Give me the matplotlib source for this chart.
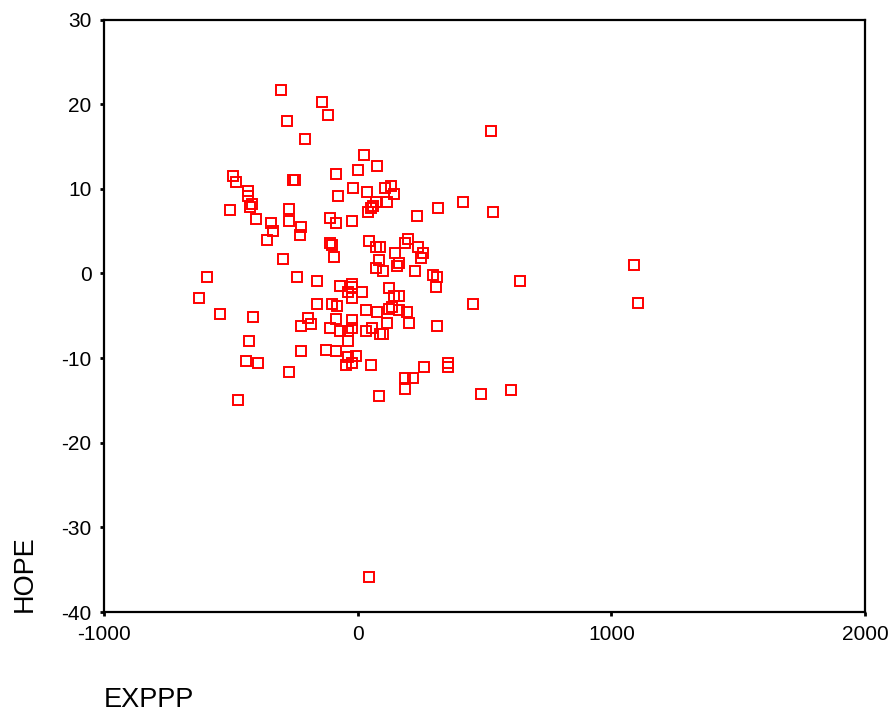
import matplotlib
matplotlib.use("Agg")
import matplotlib.pyplot as plt

plt.rcParams['font.family'] = ['Liberation Sans', 'DejaVu Sans']
plt.rcParams['axes.unicode_minus'] = False

# EXPPP (x) and HOPE (y)
exppp = [-304, -142, -280, -118, -209, 525, 24, 75, 0, -87,
         -493, -481, -256, -249, -20, 107, 130, 36, -79, 142,
         -434, -434, -418, -426, 114, 71, 59, 51, 39, 414,
         316, -505, -272, 533, 233, -110, -402, -272, -24, -87,
         -343, -225, -335, -229, -359, -110, -103, 43, 197, 185,
         71, 87, 237, 146, 256, 249, -95, -296, 83, 162,
         154, 71, 99, 225, -592, -241, 296, 312, 308, 1089,
         639, -162, -71, -24, -24, -39, 16, -24, 122, 142,
         162, -627, -162, -103, -83, 454, 1105, 32, 75, 122,
         134, 162, 193, -544, -414, -197, -185, -225, -87, -24,
         -24, -110, -71, -39, 32, 55, 87, 99, 114, 201,
         312, -430, -39, -225, -126, -87, -39, -8, -47, -24,
         51, -442, -394, 260, 355, 355, -272, 185, 217, 185,
         604, 485, 83, -473, 43]
hope = [21.7, 20.3, 18.0, 18.7, 15.9, 16.8, 14.0, 12.7, 12.2, 11.7,
        11.5, 10.8, 11.0, 11.0, 10.1, 10.1, 10.3, 9.6, 9.1, 9.4,
        9.7, 9.1, 8.2, 7.8, 8.4, 8.4, 8.0, 7.7, 7.2, 8.4,
        7.7, 7.5, 7.6, 7.2, 6.8, 6.5, 6.4, 6.2, 6.2, 5.9,
        5.9, 5.5, 5.0, 4.5, 3.9, 3.6, 3.3, 3.8, 4.1, 3.6,
        3.1, 3.1, 3.1, 2.4, 2.4, 1.8, 1.9, 1.7, 1.6, 1.2,
        0.9, 0.7, 0.3, 0.3, -0.4, -0.4, -0.2, -0.4, -1.6, 1.0,
        -0.9, -0.9, -1.5, -1.3, -1.6, -2.2, -2.2, -2.9, -1.7, -2.7,
        -2.7, -2.9, -3.6, -3.6, -3.9, -3.6, -3.5, -4.3, -4.6, -4.2,
        -4.0, -4.3, -4.6, -4.8, -5.1, -5.3, -6.0, -6.2, -5.4, -5.5,
        -6.4, -6.5, -6.8, -6.8, -6.8, -6.5, -7.1, -7.1, -5.9, -5.9,
        -6.2, -8.0, -8.0, -9.2, -9.0, -9.2, -9.9, -9.7, -10.8, -10.6,
        -10.8, -10.4, -10.6, -11.1, -10.6, -11.1, -11.6, -12.3, -12.3, -13.6,
        -13.8, -14.3, -14.5, -15.0, -35.9]

xticks = [-1000, 0, 1000, 2000]
yticks = [-40, -30, -20, -10, 0, 10, 20, 30]

fig = plt.figure(figsize=(8.92, 7.17), dpi=100)
ax = fig.add_axes([104 / 892, 1 - 612 / 717, (865 - 104) / 892, (612 - 19.5) / 717])

ax.plot(exppp, hope, linestyle='none', marker='s', markersize=6.8,
        markerfacecolor='none', markeredgecolor='#ff0000', markeredgewidth=1.4)

ax.set_xlim(-1000, 2000)
ax.set_ylim(-40, 30)
ax.set_xticks(xticks)
ax.set_yticks(yticks)
ax.tick_params(direction='out', length=3, width=2, labelsize=15, pad=6)
for s in ax.spines.values():
    s.set_linewidth(1.6)

fig.text(25 / 892, 1 - 612 / 717, 'HOPE', rotation=90, fontsize=19.5,
         ha='center', va='bottom')
fig.text(104 / 892, 1 - 700 / 717, 'EXPPP', fontsize=19.5, ha='left', va='center')

fig.savefig('out.png', dpi=100)
